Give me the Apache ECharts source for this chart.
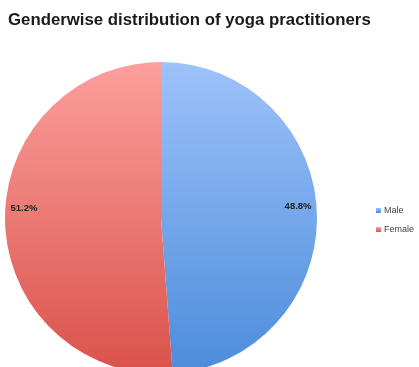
<!DOCTYPE html>
<html>
<head>
<meta charset="utf-8">
<script src="https://cdn.jsdelivr.net/npm/echarts@6/dist/echarts.min.js"></script>
<style>
  html, body { margin: 0; padding: 0; background: #fff; }
  #chart { width: 419px; height: 367px; }
</style>
</head>
<body>
<div id="chart"></div>
<script>
// Share of practitioners by gender (percent)
const categories = ['Male', 'Female'];
const shares = [48.8, 51.2];

// Vertical gradient per slice: light at top, deeper at bottom
const sliceColors = [
  ['#9dc2fa', '#4c8cdb'],
  ['#fc9f9d', '#da524a']
];

const data = categories.map((name, i) => ({
  name: name,
  value: shares[i],
  itemStyle: {
    color: new echarts.graphic.LinearGradient(0, 0, 0, 1, [
      { offset: 0, color: sliceColors[i][0] },
      { offset: 1, color: sliceColors[i][1] }
    ])
  }
}));

const center = [161, 218];
const radius = 156;
// Percentage labels sit on one baseline just above the centre line
const labelShift = [-6, -15];

const chart = echarts.init(document.getElementById('chart'), null, { renderer: 'canvas' });
chart.setOption({
  animation: false,
  backgroundColor: '#ffffff',
  title: {
    text: 'Genderwise distribution of yoga practitioners',
    left: 8,
    top: 12,
    padding: 0,
    textStyle: {
      fontFamily: 'Liberation Sans, Arial, sans-serif',
      fontWeight: 'bold',
      fontSize: 16.8,
      color: '#1a1a1a'
    }
  },
  legend: {
    orient: 'vertical',
    left: 371,
    top: 201,
    itemWidth: 5,
    itemHeight: 5,
    itemGap: 10,
    icon: 'rect',
    data: categories,
    textStyle: {
      fontFamily: 'Liberation Sans, Arial, sans-serif',
      fontSize: 9,
      color: '#444',
      padding: [0, 0, 0, -2]
    }
  },
  series: [
    {
      type: 'pie',
      center: center,
      radius: [0, radius],
      startAngle: 90,
      clockwise: true,
      label: { show: false },
      labelLine: { show: false },
      emphasis: { disabled: true },
      silent: true,
      data: data
    },
    {
      // Transparent ring used only to place the percentage labels near the rim
      type: 'pie',
      center: center,
      radius: [radius * 0.72, radius],
      startAngle: 90,
      clockwise: true,
      silent: true,
      emphasis: { disabled: true },
      itemStyle: { color: 'rgba(0,0,0,0)' },
      labelLine: { show: false },
      labelLayout: p => ({ dy: labelShift[p.dataIndex] }),
      label: {
        show: true,
        position: 'inside',
        formatter: p => p.value.toFixed(1) + '%',
        fontFamily: 'Liberation Sans, Arial, sans-serif',
        fontWeight: 'bold',
        fontSize: 9.5,
        color: '#222'
      },
      data: categories.map((name, i) => ({ name: name, value: shares[i] }))
    }
  ]
});
</script>
</body>
</html>
